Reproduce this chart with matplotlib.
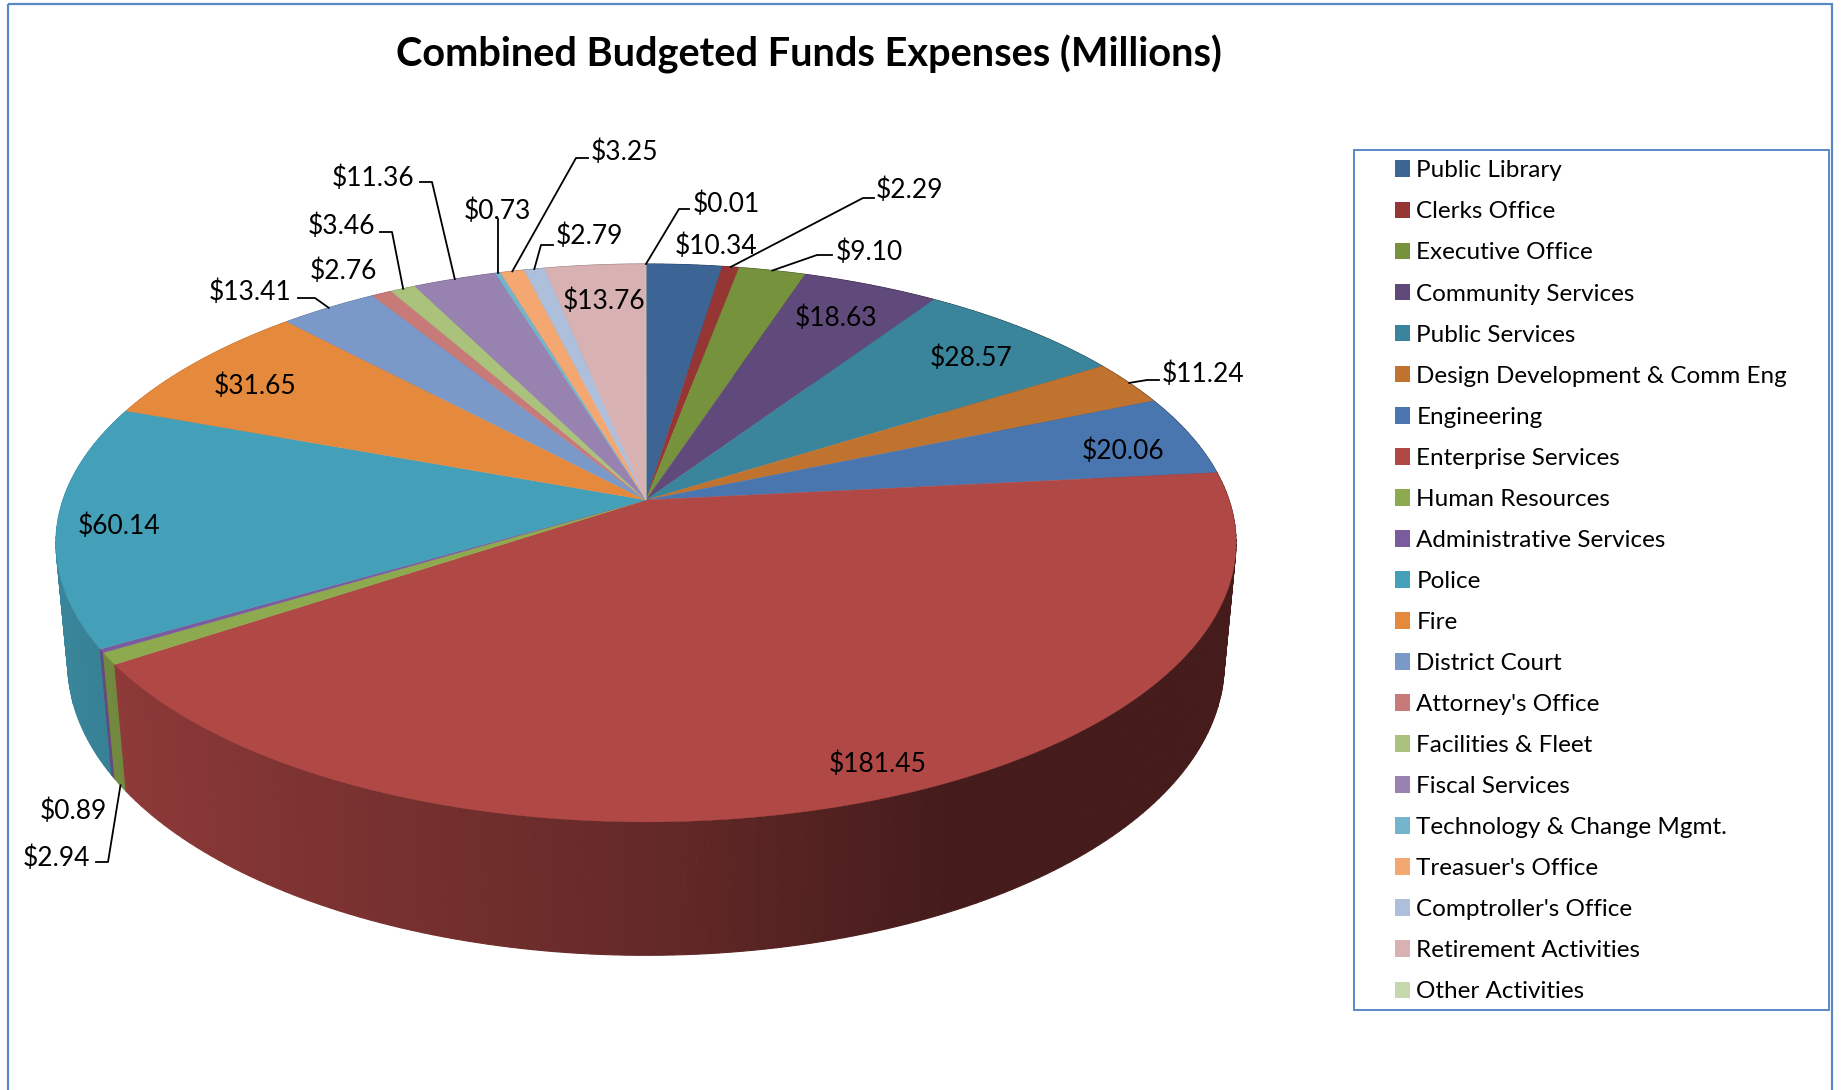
import numpy as np
import matplotlib
matplotlib.use("Agg")
import matplotlib.pyplot as plt
from matplotlib.patches import Patch, Rectangle
from matplotlib.colors import to_rgb

# ---------- data ----------
departments = ["Public Library", "Clerks Office", "Executive Office", "Community Services",
               "Public Services", "Design Development & Comm Eng", "Engineering",
               "Enterprise Services", "Human Resources", "Administrative Services", "Police",
               "Fire", "District Court", "Attorney's Office", "Facilities & Fleet",
               "Fiscal Services", "Technology & Change Mgmt.", "Treasuer's Office",
               "Comptroller's Office", "Retirement Activities", "Other Activities"]
expenses = [10.34, 2.29, 9.10, 18.63, 28.57, 11.24, 20.06, 181.45, 2.94, 0.89, 60.14,
            31.65, 13.41, 2.76, 3.46, 11.36, 0.73, 3.25, 2.79, 13.76, 0.01]
title = "Combined Budgeted Funds Expenses (Millions)"

# ---------- style ----------
slice_colors = ["#3c6494", "#963634", "#76923c", "#604a7b", "#3a859b", "#c0722f", "#4a76b0",
                "#b04846", "#8eaa4f", "#7a5c9e", "#449fb8", "#e58a3d", "#7b99c8", "#c87a78",
                "#aac27c", "#9782b0", "#74b4cc", "#f5a772", "#aebfdc", "#d8b1b3", "#c8d8ae"]
BORDER = "#5a8ac6"
FONT = "Lato"
W, H = 1843, 1090
CX, CY = 646.0, 500.0
A, B, K = 583.0, 272.3, 0.154
DEPTH, M = 122.0, 0.02
LABEL_DY = 3

# label centres, pixels (layout only)
label_xy = [(716, 243), (909, 187), (869, 249), (836, 315), (971, 355), (1203, 371), (1123, 448),
            (878, 761), (56, 855), (73, 808), (119, 523), (255, 383), (250, 289), (343, 268),
            (341, 223), (373, 175), (497, 208), (624, 149), (589, 233), (604, 298), (726, 201)]
# leader-line elbows per slice index: rim goes to these points
leaders = {1: [(863, 198), (874, 198)], 2: [(817, 255), (832, 255)],
           5: [(1147, 380), (1159, 380)], 12: [(315, 298), (298, 298)],
           14: [(392, 232), (380, 232)], 15: [(432, 182), (420, 182)],
           16: [(498, 219)], 17: [(576, 158), (588, 158)], 18: [(541, 245), (553, 245)],
           20: [(679, 209), (689, 209)]}
bottom_leader = {8: [(108, 862), (96, 862)]}


def project(theta, z=0.0):
    """theta clockwise from 12 o'clock; z=0 top face, z=1 bottom rim."""
    x, y = np.sin(theta), np.cos(theta)
    w = 1 + K * y + M * z
    return CX + A * x / w, CY + (-B * y + DEPTH * z) / w


def shade(theta):
    return np.interp(np.sin(theta), [-1, -0.83, 0, 0.45, 1], [0.85, 0.80, 0.57, 0.39, 0.39])


fig = plt.figure(figsize=(W / 100, H / 100), dpi=100)
ax = fig.add_axes([0, 0, 1, 1])
ax.set_xlim(0, W)
ax.set_ylim(H, 0)
ax.axis("off")

values = np.array(expenses)
edges = np.concatenate([[0], np.cumsum(values)]) / values.sum() * 2 * np.pi

# outer border
ax.add_patch(Rectangle((8, 4), 1824, 1200, fill=False, ec=BORDER, lw=1.6, zorder=0))

# walls, back to front
strips = []
for i, col in enumerate(slice_colors):
    n = max(2, int(np.ceil((edges[i + 1] - edges[i]) / np.radians(1.0))) + 1)
    t = np.linspace(edges[i], edges[i + 1], n)
    for t0, t1 in zip(t[:-1], t[1:]):
        strips.append((np.cos((t0 + t1) / 2), t0, t1, col))
strips.sort(key=lambda s: -s[0])
for _, t0, t1, col in strips:
    xs = [project(t0)[0], project(t1)[0], project(t1, 1)[0], project(t0, 1)[0]]
    ys = [project(t0)[1], project(t1)[1], project(t1, 1)[1], project(t0, 1)[1]]
    c = np.array(to_rgb(col)) * shade((t0 + t1) / 2)
    ax.fill(xs, ys, color=tuple(c), lw=0.8, zorder=1)

# top face
for i, col in enumerate(slice_colors):
    n = max(2, int(np.ceil((edges[i + 1] - edges[i]) / np.radians(0.5))) + 1)
    t = np.linspace(edges[i], edges[i + 1], n)
    px, py = project(t)
    ax.fill(np.r_[CX, px], np.r_[CY, py], color=col, lw=0.3, zorder=2)

# data labels and leaders
for i, (v, (lx, ly)) in enumerate(zip(expenses, label_xy)):
    ax.text(lx, ly + LABEL_DY, f"${v:.2f}", ha="center", va="center", fontsize=19, family=FONT,
            color="black", zorder=5)
    mid = (edges[i] + edges[i + 1]) / 2
    if leaders.get(i):
        rx, ry = project(mid)
        pts = [(rx, ry)] + leaders[i]
        ax.plot(*zip(*pts), color="black", lw=1.3, zorder=4)
    if i in bottom_leader:
        rx, ry = project(mid, 1)
        pts = [(rx, ry)] + bottom_leader[i]
        ax.plot(*zip(*pts), color="black", lw=1.3, zorder=4)

# title
ax.text(809, 54, title, ha="center", va="center", fontsize=28.6, fontweight="bold", family=FONT,
        color="black")

# legend
ax.add_patch(Rectangle((1354, 150), 475, 860, fill=False, ec=BORDER, lw=1.4, zorder=3))
handles = [Patch(facecolor=c, edgecolor="none") for c in slice_colors]
leg = ax.legend(handles, departments, loc="upper left", frameon=False,
                bbox_to_anchor=(1390 / W, 1 - 155.5 / H), bbox_transform=fig.transFigure,
                prop={"family": FONT, "size": 17.5}, handlelength=0.62, handleheight=0.68,
                handletextpad=0.27, labelspacing=0.825, borderpad=0.2, borderaxespad=0)

fig.savefig("out.png", dpi=100)
